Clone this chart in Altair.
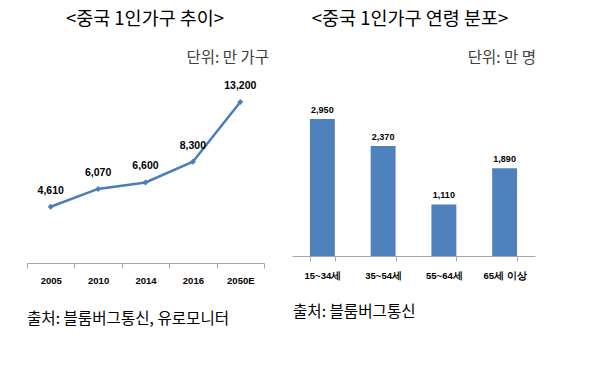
import altair as alt
import pandas as pd

years = ["2005", "2010", "2014", "2016", "2050E"]
households = [4610, 6070, 6600, 8300, 13200]
household_labels = ["4,610", "6,070", "6,600", "8,300", "13,200"]

ages = ["15~34세", "35~54세", "55~64세", "65세 이상"]
people = [2950, 2370, 1110, 1890]
people_labels = ["2,950", "2,370", "1,110", "1,890"]

left_title = "<중국 1인가구 추이>"
right_title = "<중국 1인가구 연령 분포>"
left_unit = "단위: 만 가구"
right_unit = "단위: 만 명"
left_source = "출처: 블룸버그통신, 유로모니터"
right_source = "출처: 블룸버그통신"

KFONT = "Noto Sans CJK KR"
NFONT = "Liberation Sans"
LINE_COLOR = "#4A7EBB"
BAR_COLOR = "#4F81BD"

df_line = pd.DataFrame({"year": years, "value": households, "label": household_labels})
df_bar = pd.DataFrame({"age": ages, "value": people, "label": people_labels})
one = pd.DataFrame({"k": [0]})

axis_common = dict(
    title=None, labelAngle=0, labelFont=NFONT, labelFontWeight="bold",
    labelFontSize=9.5, labelColor="#000000", domainColor="#A6A6A6",
    tickColor="#A6A6A6", tickSize=5, tickBand="extent", grid=False,
    labelBaseline="top",
)

# ---------- left: line chart ----------
xl = alt.X("year:N", sort=years,
           scale=alt.Scale(paddingInner=0, paddingOuter=0),
           axis=alt.Axis(labelPadding=7, **axis_common))
yl = alt.Y("value:Q", scale=alt.Scale(domain=[0, 15000], nice=False), axis=None)

base_l = alt.Chart(df_line).encode(x=xl, y=yl)
line = base_l.mark_line(color=LINE_COLOR, strokeWidth=2.5)
pts = base_l.mark_point(shape="diamond", filled=True, color=LINE_COLOR, size=35, opacity=1)
lbl_l = base_l.mark_text(font=NFONT, fontWeight="bold", fontSize=10.5, dy=-16,
                         color="#000000").encode(text="label:N")

def txt(s, x, y, size, align="center", baseline="middle", color="#000000"):
    return alt.Chart(one).mark_text(text=s, font=KFONT, fontSize=size, align=align,
                                    baseline=baseline, color=color).encode(
        x=alt.value(x), y=alt.value(y))

left = alt.layer(
    line, pts, lbl_l,
    txt(left_title, 118, -70, 18.5, baseline="top"),
    txt(left_unit, 242, -22, 15.5, align="right", color="#404040"),
    txt(left_source, 0, 239, 15.6, align="left"),
).properties(width=237, height=183)

# ---------- right: bar chart ----------
xr = alt.X("age:N", sort=ages,
           scale=alt.Scale(paddingInner=0.59, paddingOuter=0.295),
           axis=alt.Axis(labelPadding=9, **axis_common))
yr = alt.Y("value:Q", scale=alt.Scale(domain=[0, 3790], nice=False), axis=None)

base_r = alt.Chart(df_bar).encode(x=xr, y=yr)
bars = base_r.mark_bar(color=BAR_COLOR)
lbl_r = base_r.mark_text(font=NFONT, fontWeight="bold", fontSize=9, dy=-9,
                         color="#000000").encode(text="label:N")

right = alt.layer(
    bars, lbl_r,
    txt(right_title, 118, -70, 18.5, baseline="top"),
    txt(right_unit, 244, -22, 15.5, align="right", color="#404040"),
    txt(right_source, 1, 232, 15.6, align="left"),
).properties(width=243, height=176)

chart = alt.hconcat(left, right, spacing=28, bounds="flush").properties(
    padding={"left": 26, "top": 10, "right": 0, "bottom": 0},
    background="#FFFFFF",
).configure_view(stroke=None, strokeWidth=0)

chart.save("out.html", embed_options={"renderer": "svg", "actions": False})
